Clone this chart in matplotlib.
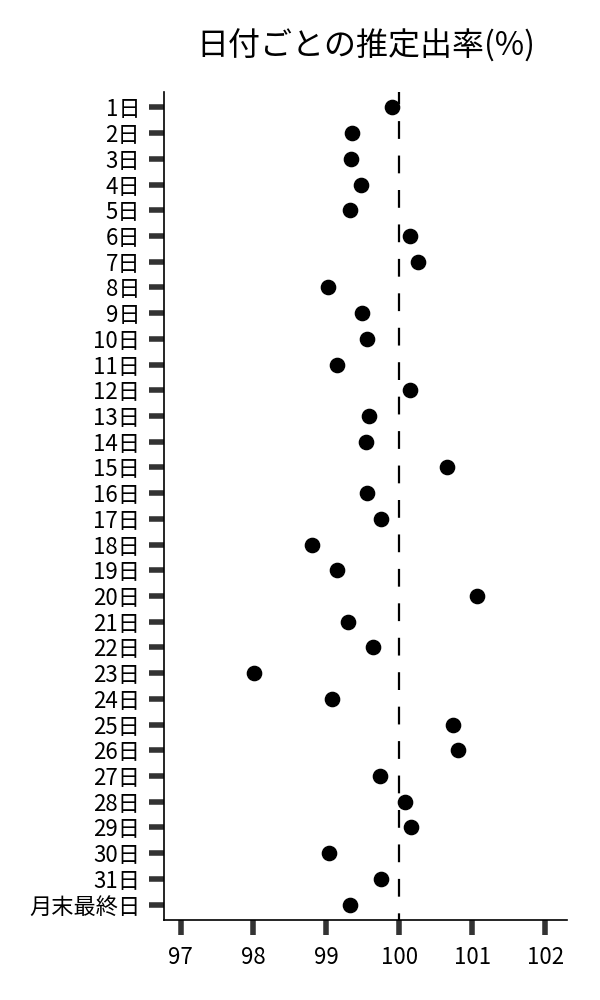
import matplotlib
matplotlib.use("Agg")
from matplotlib import pyplot as plt

plt.rcParams['font.family'] = ['Noto Sans CJK JP', 'DejaVu Sans']

# 日付ラベルと推定出率
days = [f"{i}日" for i in range(1, 32)] + ["月末最終日"]
rates = [99.90, 99.35, 99.34, 99.48, 99.33, 100.15, 100.25, 99.02, 99.49, 99.56,
         99.15, 100.15, 99.59, 99.55, 100.65, 99.56, 99.75, 98.80, 99.15, 101.07,
         99.30, 99.64, 98.01, 99.08, 100.73, 100.80, 99.73, 100.08, 100.16, 99.04,
         99.75, 99.33]
xticks = [97, 98, 99, 100, 101, 102]

fig = plt.figure(figsize=(6, 10), dpi=100)
ax = fig.add_axes([0.273, 0.08, 0.672, 0.828])

ypos = list(range(len(days)))
ax.scatter(rates, ypos, s=105, color='black', zorder=3)
ax.axvline(100, color='black', linestyle=(5, (8, 7.5)), linewidth=1.6, zorder=2)

ax.set_yticks(ypos)
ax.set_yticklabels(days)
ax.set_ylim(len(days) - 0.4, -0.6)
ax.set_xticks(xticks)
ax.set_xlim(96.77, 102.3)

for side in ['top', 'right']:
    ax.spines[side].set_visible(False)
for side in ['left', 'bottom']:
    ax.spines[side].set_linewidth(1.2)

ax.tick_params(axis='both', length=11, width=4, color='#333333',
               labelsize=16)
ax.tick_params(axis='y', pad=6)
ax.tick_params(axis='x', pad=8)

ax.set_title('日付ごとの推定出率(%)', fontsize=23, pad=26)

fig.savefig('out.png', dpi=100)
